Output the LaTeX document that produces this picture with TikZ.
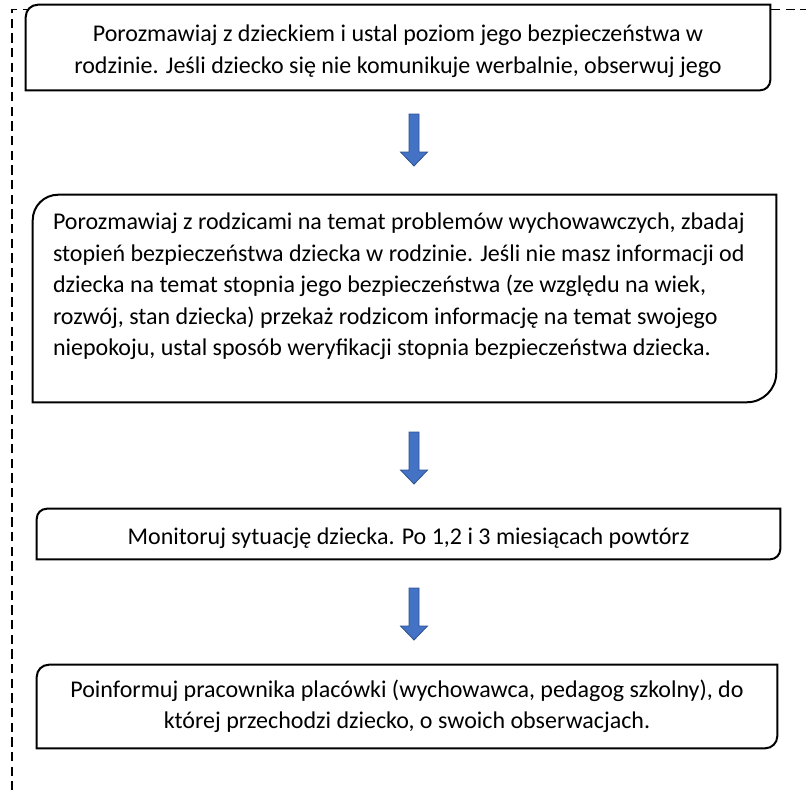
\documentclass[tikz,border=0pt]{standalone}
\usepackage{fontspec}
\setmainfont{Carlito}
\usetikzlibrary{positioning}
\pgfdeclarelayer{background}
\pgfsetlayers{background,main}
\definecolor{arrowblue}{HTML}{4472C4}
\definecolor{arrowedge}{HTML}{2F528F}

\tikzset{
  stepbox/.style={rectangle, inner sep=0pt, font=\fontsize{18}{23.6}\selectfont},
  boxline/.style={draw=black, line width=1.5pt, fill=white},
  frameline/.style={draw=black, line width=1pt, dash pattern=on 7pt off 4pt},
  blockdown/.pic={
    \filldraw[fill=arrowblue, draw=arrowedge, line width=0.6pt]
      (-5,0) -- (5,0) -- (5,38) -- (13.5,38) -- (0,52) -- (-13.5,38) -- (-5,38) -- cycle;
  }
}

% box outline: rounded top left and bottom right
\newcommand\roundbox[3]{%
  \filldraw[boxline] (#1.south west) -- ([yshift=-#2]#1.north west)
    arc[start angle=180, end angle=90, radius=#2] -- (#1.north east)
    -- ([yshift=#3]#1.south east) arc[start angle=0, end angle=-90, radius=#3] -- cycle;}

\begin{document}
\begin{tikzpicture}[x=0.75pt, y=-0.75pt]
    \useasboundingbox (0,0) rectangle (806,789);
    \node[stepbox, minimum width=558pt, minimum height=63.75pt, align=center] (b1) at (398,47.5)
      {\rule{0pt}{18pt}Porozmawiaj z dzieckiem i ustal poziom jego bezpieczeństwa w\\
       rodzinie. Jeśli dziecko się nie komunikuje werbalnie, obserwuj jego};
    \node[stepbox, minimum width=557.25pt, minimum height=155.25pt] (b2) at (404.5,298.5)
      {\parbox[c][128pt][t]{527.25pt}{\raggedright
       Porozmawiaj z rodzicami na temat problemów wychowawczych, zbadaj\\
       stopień bezpieczeństwa dziecka w rodzinie. Jeśli nie masz informacji od\\
       dziecka na temat stopnia jego bezpieczeństwa (ze względu na wiek,\\
       rozwój, stan dziecka) przekaż rodzicom informację na temat swojego\\
       niepokoju, ustal sposób weryfikacji stopnia bezpieczeństwa dziecka.}};
    \node[stepbox, minimum width=557.25pt, minimum height=37.5pt, align=center] (b3) at (408.5,534)
      {\rule{0pt}{19pt}Monitoruj sytuację dziecka. Po 1,2 i 3 miesiącach powtórz};
    \node[stepbox, minimum width=555pt, minimum height=62.25pt, align=center] (b4) at (407,706.5)
      {Poinformuj pracownika placówki (wychowawca, pedagog szkolny), do\\
       której przechodzi dziecko, o swoich obserwacjach.};
    \begin{pgfonlayer}{background}
      \draw[frameline] (12,820) -- (12,9.5) -- (830,9.5);
      \roundbox{b1}{9pt}{7.5pt}
      \roundbox{b2}{19pt}{22pt}
      \roundbox{b3}{7.5pt}{7.5pt}
      \roundbox{b4}{9pt}{9pt}
    \end{pgfonlayer}
    \pic at (414,114) {blockdown};
    \pic at (414,432) {blockdown};
    \pic at (414,588) {blockdown};
\end{tikzpicture}
\end{document}
